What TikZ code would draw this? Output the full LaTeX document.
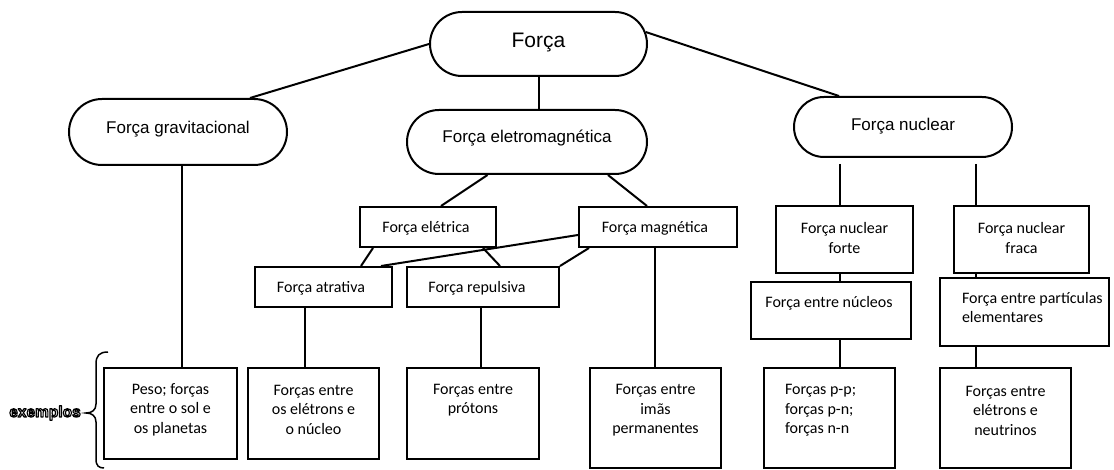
\documentclass[tikz,border=0pt]{standalone}
\usepackage{fontspec}
\setmainfont{Carlito}
\newfontfamily\arialf{Liberation Sans}
\usetikzlibrary{calc,shapes.misc}
\newcommand{\outlinedtext}[1]{\special{pdf:literal direct 2 Tr 1.15 w 1 j 0 0 0 RG}#1\special{pdf:literal direct 0 Tr}}
\begin{document}
\begin{tikzpicture}[x=1pt,y=-1pt,line width=2pt,
  oval/.style={draw,rounded rectangle,inner sep=0pt},
  bx/.style={draw,rectangle,inner sep=0pt},
  otext/.style={font=\arialf\fontsize{17}{20}\selectfont,inner sep=0pt},
  btext/.style={font=\fontsize{16}{19.5}\selectfont,inner sep=0pt,align=center},
  extext/.style={font=\arialf\bfseries\fontsize{15.5}{17}\selectfont,inner sep=0pt}]
\useasboundingbox (0,0) rectangle (1114,470);

% ovals
\node[oval,minimum width=217pt,minimum height=64pt] (force) at (538.5,44) {};
\node[oval,minimum width=218pt,minimum height=66pt] (grav) at (178,132) {};
\node[oval,minimum width=240pt,minimum height=64pt] (elm) at (527,142) {};
\node[oval,minimum width=218pt,minimum height=60pt] (nuc) at (903,127) {};
\node[otext,font=\arialf\fontsize{21}{24}\selectfont] (tforce) at (538.5,43) {Força};
\node[otext] (tgrav) at (178,129) {Força gravitacional};
\node[otext] (telm) at (527,138) {Força eletromagnética};
\node[otext] (tnuc) at (903,126) {Força nuclear};

% boxes
\node[bx,minimum width=136pt,minimum height=40pt] (eletr) at (428,227) {};
\node[bx,minimum width=158pt,minimum height=40pt] (magn) at (658,227) {};
\node[bx,minimum width=137pt,minimum height=40pt] (atr) at (323.5,287) {};
\node[bx,minimum width=152pt,minimum height=40pt] (rep) at (483,287) {};
\node[bx,minimum width=137pt,minimum height=67pt] (forte) at (844.5,239.5) {};
\node[bx,minimum width=135pt,minimum height=67pt] (fraca) at (1021.5,239.5) {};
\node[bx,minimum width=160pt,minimum height=57pt] (nucleos) at (831,310.5) {};
\node[bx,minimum width=169pt,minimum height=68pt] (partic) at (1024.5,312) {};
\node[bx,minimum width=133pt,minimum height=91pt] (peso) at (170.5,413.5) {};
\node[bx,minimum width=131pt,minimum height=91pt] (eln) at (313.5,413.5) {};
\node[bx,minimum width=132pt,minimum height=91pt] (prot) at (473,413.5) {};
\node[bx,minimum width=131pt,minimum height=100pt] (imas) at (655.5,418) {};
\node[bx,minimum width=131pt,minimum height=100pt] (pp) at (829.5,418) {};
\node[bx,minimum width=131pt,minimum height=100pt] (neut) at (1005.5,418) {};

% box texts
\node[btext] (teletr) at (426,228) {Força elétrica};
\node[btext] (tmagn) at (655,228) {Força magnética};
\node[btext] (tatr) at (321,288) {Força atrativa};
\node[btext] (trep) at (477,288) {Força repulsiva};
\node[btext] (tforte) at (844.5,238) {Força nuclear\\forte};
\node[btext] (tfraca) at (1021.5,238) {Força nuclear\\fraca};
\node[btext] (tnucleos) at (829,303) {Força entre núcleos};
\node[btext,align=left,anchor=west] (tpartic) at (961,307.5) {Força entre partículas\\elementares};
\node[btext] (tpeso) at (170.5,409.5) {Peso; forças\\entre o sol e\\os planetas};
\node[btext] (teln) at (313.5,409.5) {Forças entre\\os elétrons e\\o núcleo};
\node[btext] (tprot) at (473,400) {Forças entre\\prótons};
\node[btext] (timas) at (655.5,410.5) {Forças entre\\imãs\\permanentes};
\node[btext,align=left,anchor=west] (tpp) at (784,410.5) {Forças p-p;\\forças p-n;\\forças n-n};
\node[btext] (tneut) at (1005.5,410.5) {Forças entre\\elétrons e\\neutrinos};

% connectors
\draw (force.west) -- ($(grav.north)+(72,0)$);
\draw (force.south) -- (force.south |- elm.north);
\draw ($(force.east)+(-2.3,-12)$) -- ($(nuc.north)+(-64,0)$);
\draw ($(elm.south)+(-39.5,0)$) -- ($(eletr.north)+(13,0)$);
\draw ($(elm.south)+(81,0)$) -- ($(magn.north)+(-11,0)$);
\draw ($(eletr.south)+(-55,0)$) -- ($(atr.north)+(37.5,0)$);
\draw ($(eletr.south)+(55,0)$) -- ($(rep.north)+(17,0)$);
\draw ($(magn.west)+(0,8)$) -- ($(atr.north east)+(-12,0)$);
\draw ($(magn.south west)+(11,0)$) -- (rep.north east);
\draw ($(grav.south)+(4,0)$) -- ($(peso.north)+(11.5,0)$);
\draw ($(atr.south)+(-18.5,0)$) -- ($(eln.north)+(-8.5,0)$);
\draw ($(rep.south)+(-2,0)$) -- ($(prot.north)+(8,0)$);
\draw ($(magn.south)+(-3,0)$) -- ($(imas.north)+(-0.5,0)$);
\draw ($(nuc.south)+(-63,6)$) -- ($(forte.north)+(-4.5,0)$);
\draw ($(forte.south)+(-4.5,0)$) -- ($(nucleos.north)+(9,0)$);
\draw ($(nucleos.south)+(9,0)$) -- ($(pp.north)+(10.5,0)$);
\draw ($(nuc.south)+(73,6)$) -- ($(fraca.north)+(-45.5,0)$);
\draw ($(fraca.south)+(-45.5,0)$) -- ($(partic.north)+(-48.5,0)$);
\draw ($(partic.south)+(-48.5,0)$) -- ($(neut.north)+(-29.5,0)$);

% brace
\draw[line width=1.5pt] (108,352) .. controls (99,352) and (96,356) .. (96,364) -- (96,404)
  .. controls (96,410) and (92,413) .. (86,413)
  .. controls (92,413) and (96,416) .. (96,422) -- (96,459)
  .. controls (96,466) and (99,468) .. (104,468);

% outlined label
\node[extext,text=white] (exemplos) at (45,413) {\outlinedtext{exemplos}};
\end{tikzpicture}
\end{document}
